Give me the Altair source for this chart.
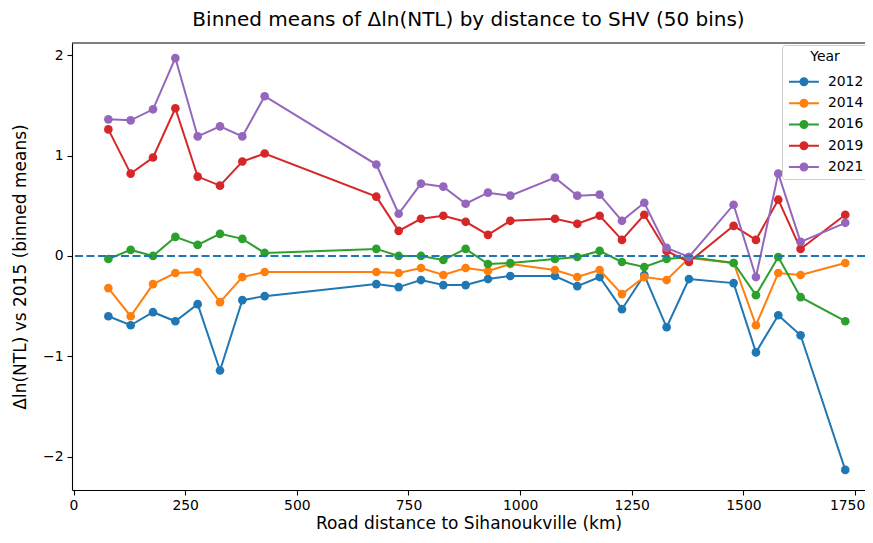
import altair as alt
import pandas as pd

# Bin centres (road distance, km)
distance_km = [78, 128, 178, 228, 278, 328, 378, 428, 678, 728, 778, 828, 878, 928,
               978, 1078, 1128, 1178, 1228, 1278, 1328, 1378, 1478, 1528, 1578, 1628, 1728]

years = ["2012", "2014", "2016", "2019", "2021"]

y2012 = [-0.60, -0.69, -0.56, -0.65, -0.48, -1.14, -0.44, -0.40, -0.28, -0.31, -0.24, -0.29, -0.29, -0.23,
         -0.20, -0.20, -0.30, -0.21, -0.53, -0.19, -0.71, -0.23, -0.27, -0.96, -0.59, -0.79, -2.13]
y2014 = [-0.32, -0.60, -0.28, -0.17, -0.16, -0.46, -0.21, -0.16, -0.16, -0.17, -0.12, -0.19, -0.12, -0.15,
         -0.08, -0.14, -0.21, -0.14, -0.38, -0.21, -0.24, -0.02, -0.07, -0.69, -0.17, -0.19, -0.07]
y2016 = [-0.03, 0.06, 0.00, 0.19, 0.11, 0.22, 0.17, 0.03, 0.07, 0.00, 0.00, -0.04, 0.07, -0.08,
         -0.07, -0.03, -0.01, 0.05, -0.06, -0.11, -0.03, -0.01, -0.07, -0.39, -0.01, -0.41, -0.65]
y2019 = [1.26, 0.82, 0.98, 1.47, 0.79, 0.70, 0.94, 1.02, 0.59, 0.25, 0.37, 0.40, 0.34, 0.21,
         0.35, 0.37, 0.32, 0.40, 0.16, 0.41, 0.05, -0.06, 0.30, 0.16, 0.56, 0.07, 0.41]
y2021 = [1.36, 1.35, 1.46, 1.97, 1.19, 1.29, 1.19, 1.59, 0.91, 0.42, 0.72, 0.69, 0.52, 0.63,
         0.60, 0.78, 0.60, 0.61, 0.35, 0.53, 0.08, -0.01, 0.51, -0.21, 0.82, 0.14, 0.33]

colors = ["#1f77b4", "#ff7f0e", "#2ca02c", "#d62728", "#9467bd"]

series = {"2012": y2012, "2014": y2014, "2016": y2016, "2019": y2019, "2021": y2021}
rows = []
for yr in years:
    for d, v in zip(distance_km, series[yr]):
        rows.append({"Year": yr, "dist": d, "val": v})
df = pd.DataFrame(rows)
zero_df = pd.DataFrame({"y0": [0.0]})

FONT = "DejaVu Sans"
W, H = 793, 447

xscale = alt.Scale(domain=[-3.4, 1772.2], nice=False, zero=False)
yscale = alt.Scale(domain=[-2.33, 2.12], nice=False, zero=False)
cscale = alt.Scale(domain=years, range=colors)

legend_path = ("M-3,-0.2 H3 V0.2 H-3 Z "
               "M0.9,0 A0.9,0.9 0 1,1 -0.9,0 A0.9,0.9 0 1,1 0.9,0 Z")

legend = alt.Legend(
    title="Year", orient="none", legendX=710, legendY=2,
    symbolType=legend_path, symbolSize=100, symbolStrokeWidth=0, symbolOpacity=1,
    symbolOffset=10, labelOffset=17,
    labelFont=FONT, labelFontSize=13.9, labelColor="#000",
    titleFont=FONT, titleFontSize=13.9, titleFontWeight="normal", titleColor="#000",
    titleAnchor="middle", titlePadding=11,
    padding=5, rowPadding=6.3,
    strokeColor="#cccccc", fillColor="rgba(255,255,255,0.8)", cornerRadius=3,
)

x_enc = alt.X("dist:Q", scale=xscale,
              axis=alt.Axis(title="Road distance to Sihanoukville (km)",
                            values=[0, 250, 500, 750, 1000, 1250, 1500, 1750], format="d",
                            labelOffset={"condition": {"test": "datum.value == 1750", "value": -8}, "value": 0},
                            grid=False, tickSize=5, tickWidth=1.1, tickColor="#000",
                            domainColor="#000", domainWidth=1.1,
                            labelFont=FONT, labelFontSize=13.9, labelColor="#000", labelPadding=3,
                            titleFont=FONT, titleFontSize=17, titleFontWeight="normal",
                            titleColor="#000", titlePadding=4))
y_enc = alt.Y("val:Q", scale=yscale,
              axis=alt.Axis(title="Δln(NTL) vs 2015 (binned means)",
                            values=[-2, -1, 0, 1, 2], format="d",
                            grid=False, tickSize=5, tickWidth=1.1, tickColor="#000",
                            domainColor="#000", domainWidth=1.1,
                            labelFont=FONT, labelFontSize=13.9, labelColor="#000", labelPadding=4,
                            titleFont=FONT, titleFontSize=17, titleFontWeight="normal",
                            titleColor="#000", titlePadding=13))

base = alt.Chart(df)
layers = []
for i, yr in enumerate(years):
    sub = base.transform_filter(alt.datum.Year == yr)
    c_enc = alt.Color("Year:N", scale=cscale, legend=legend)
    layers.append(sub.mark_line(strokeWidth=2.0, clip=True).encode(x=x_enc, y=y_enc, color=c_enc))
    layers.append(sub.mark_point(filled=True, size=75, opacity=1, clip=True)
                  .encode(x=x_enc, y=y_enc, color=c_enc))

zero_line = alt.Chart(zero_df).mark_rule(color="#1f77b4", strokeWidth=2.0, strokeDash=[8, 3.5]).encode(
    y=alt.Y("y0:Q", scale=yscale))

top_spine = alt.Chart(zero_df).mark_rule(color="#000", strokeWidth=1.1).encode(
    x=alt.value(0), x2=alt.value(W), y=alt.value(0))

chart = alt.layer(*layers, zero_line, top_spine).properties(
    width=W, height=H,
    title=alt.TitleParams("Binned means of Δln(NTL) by distance to SHV (50 bins)",
                          font=FONT, fontSize=20, fontWeight="normal", color="#000",
                          anchor="middle", offset=12),
    autosize=alt.AutoSizeParams(type="none"),
    padding={"left": 64, "top": 35, "right": 0, "bottom": 45},
).configure_view(stroke=None)

chart.save("out.html", embed_options={"renderer": "svg", "actions": False})
